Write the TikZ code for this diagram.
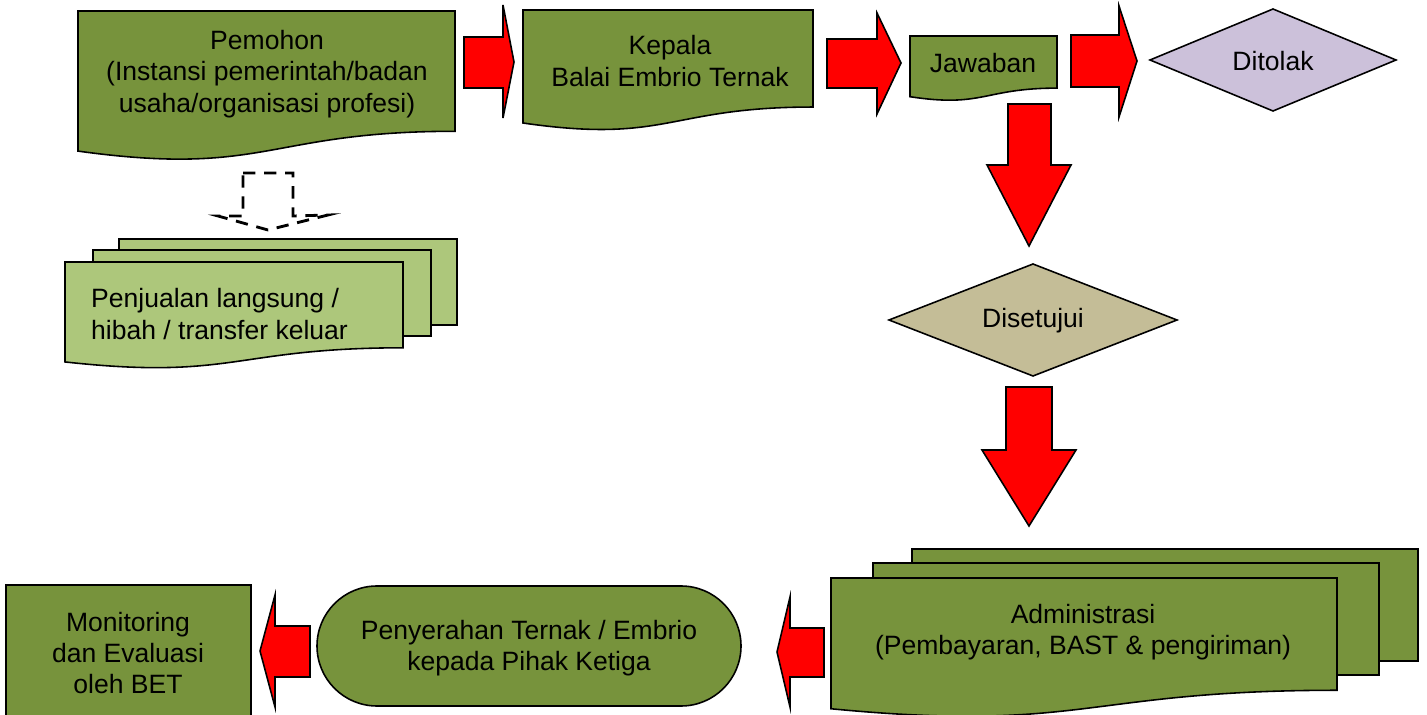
\documentclass[tikz,border=0pt]{standalone}
\usepackage{fontspec}
\setmainfont{Liberation Sans}

\definecolor{oliveFill}{HTML}{77933C}
\definecolor{lightFill}{HTML}{ADC77B}
\definecolor{lavFill}{HTML}{CCC1DA}
\definecolor{tanFill}{HTML}{C4BD97}

% document shape: left, top, right, full bottom
\newcommand{\docshape}[5][]{\draw[#1] (#2,#3) -- (#4,#3) -- (#4,{#3+0.802*(#5-#3)}) .. controls ({(#2+#4)/2},{#3+0.802*(#5-#3)}) and ({(#2+#4)/2},{#3+1.108*(#5-#3)}) .. (#2,{#3+0.934*(#5-#3)}) -- cycle;}

\begin{document}
\begin{tikzpicture}[x=0.02cm,y=-0.02cm,
		box/.style={draw=black,line width=0.9pt,fill=oliveFill},
		lightbox/.style={draw=black,line width=0.9pt,fill=lightFill},
		redarrow/.style={draw=black,line width=0.9pt,fill=red},
		txt/.style={font=\fontsize{15.1}{17.8}\selectfont,align=center}]
		\useasboundingbox (0,0) rectangle (1427,715);

		% top row
		\docshape[box]{78}{11}{455}{161}
		\node [txt] (pemohon) at (267,74) {Pemohon\\(Instansi pemerintah/badan\\usaha/organisasi profesi)};
		\docshape[box]{523}{10}{813}{131}
		\node [txt] (kepala) at (670,61) {Kepala\\Balai Embrio Ternak};
		\docshape[box]{910}{36}{1057}{101}
		\node [txt] (jawaban) at (983,63) {Jawaban};
		\draw [draw=black,line width=0.9pt,fill=lavFill] (1150,60) -- (1273,9) -- (1396,60) -- (1273,111) -- cycle;
		\node [txt] (ditolak) at (1273,61) {Ditolak};

		\draw [redarrow] (464,37) -- (503,37) -- (503,5) -- (514,62) -- (503,118) -- (503,88) -- (464,88) -- cycle;
		\draw [redarrow] (827,39) -- (877,39) -- (877,13) -- (901,63) -- (877,114) -- (877,88) -- (827,88) -- cycle;
		\draw [redarrow] (1071,35) -- (1119,35) -- (1119,6) -- (1137,61) -- (1119,117) -- (1119,87) -- (1071,87) -- cycle;

		% dashed branch
		\draw [dashed,line width=1.6pt,dash pattern=on 7pt off 5pt] (243,173) -- (293,173) -- (293,216) -- (328,215) -- (268,230) -- (218,216) -- (243,216) -- cycle;
		\foreach \dx/\dy in {54/-23, 28/-12} {
			\draw [lightbox] (65+\dx,262+\dy) rectangle (403+\dx,348+\dy);
		}
		\docshape[lightbox]{65}{262}{403}{369}
		\node [txt,anchor=west,align=left] (penjualan) at (85,314) {Penjualan langsung /\\hibah / transfer keluar};

		% approved path
		\draw [redarrow] (1008,104) -- (1051,104) -- (1051,165) -- (1071,165) -- (1029,246) -- (987,165) -- (1008,165) -- cycle;
		\draw [draw=black,line width=0.9pt,fill=tanFill] (889,320) -- (1033,264) -- (1177,320) -- (1033,376) -- cycle;
		\node [txt] (disetujui) at (1033,321) {Disetujui};
		\draw [redarrow] (1006,387) -- (1052,387) -- (1052,450) -- (1076,450) -- (1029,526) -- (982,450) -- (1006,450) -- cycle;

		% bottom row
		\foreach \dx/\dy in {81/-29, 42/-15} {
			\draw [box] (831+\dx,578+\dy) rectangle (1337+\dx,690+\dy);
		}
		\docshape[box]{831}{578}{1337}{718}
		\node [txt] (admin) at (1083,632) {Administrasi\\(Pembayaran, BAST \& pengiriman)};
		\draw [redarrow] (824,628) -- (790,628) -- (790,597) -- (777,652) -- (790,707) -- (790,677) -- (824,677) -- cycle;
		\draw [box,rounded corners=1.2cm] (317,586) rectangle (741,706);
		\node [txt] (penyerahan) at (529,648) {Penyerahan Ternak / Embrio\\kepada Pihak Ketiga};
		\draw [redarrow] (310,626) -- (275,626) -- (275,595) -- (260,651) -- (275,707) -- (275,677) -- (310,677) -- cycle;
		\draw [box] (6,585) rectangle (251,722);
		\node [txt] (monev) at (128,653) {Monitoring\\dan Evaluasi\\oleh BET};
	\end{tikzpicture}
\end{document}
